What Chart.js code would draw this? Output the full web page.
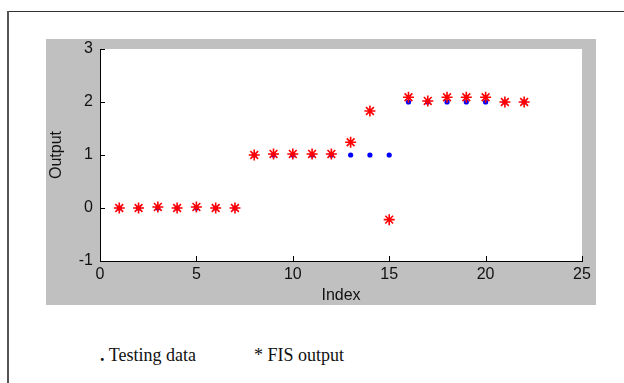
<!DOCTYPE html>
<html>
<head>
<meta charset="utf-8">
<script src="https://cdn.jsdelivr.net/npm/chart.js@4.4.1/dist/chart.umd.min.js"></script>
<style>
  html, body { margin: 0; padding: 0; background: #fff; }
  #page { position: relative; width: 624px; height: 383px; overflow: hidden; }
  #frameTop { position: absolute; left: 7px; top: 11px; width: 617px; height: 1px; background: #333; }
  #frameLeft { position: absolute; left: 7px; top: 11px; width: 2px; height: 372px; background: #555; }
  #panel { position: absolute; left: 46px; top: 39px; width: 550px; height: 266px; background: #c0c0c0; }
  .legend { position: absolute; top: 345px; font-family: "Liberation Serif", "DejaVu Serif", serif; font-size: 18px; color: #111; }
</style>
</head>
<body>
<div id="page">
  <div id="frameTop"></div>
  <div id="frameLeft"></div>
  <div id="panel"><canvas id="chart"></canvas></div>
  <div class="legend" style="left:100px;"><b>.</b> Testing data</div>
  <div class="legend" style="left:254px;">* FIS output</div>
</div>
<script>
const indices = [1, 2, 3, 4, 5, 6, 7, 8, 9, 10, 11, 12, 13, 14, 15, 16, 17, 18, 19, 20, 21, 22]
const testingData = [0, 0, 0, 0, 0, 0, 0, 1, 1, 1, 1, 1, 1, 1, 1, 2, 2, 2, 2, 2, 2, 2]
const fisOutput = [0, 0, 0.02, 0, 0.02, 0, 0, 1, 1.02, 1.02, 1.02, 1.02, 1.24, 1.83, -0.22, 2.09, 2.02, 2.09, 2.09, 2.09, 2.0, 2.0]
const xTicks = [0, 5, 10, 15, 20, 25]
const yTicks = [-1, 0, 1, 2, 3]

const toPoints = (ys) => indices.map((x, i) => ({ x: x, y: ys[i] }))

// white plot box + inward tick marks like matlab
const plotBox = {
  id: "plotBox",
  beforeDraw(chart) {
    const { ctx, chartArea } = chart
    ctx.save()
    ctx.fillStyle = "#ffffff"
    ctx.fillRect(chartArea.left, chartArea.top, chartArea.right - chartArea.left, chartArea.bottom - chartArea.top)
    ctx.restore()
  },
  afterDraw(chart) {
    const { ctx, chartArea, scales } = chart
    ctx.save()
    ctx.strokeStyle = "#000"
    ctx.lineWidth = 1
    ctx.beginPath()
    xTicks.forEach((v) => {
      const px = Math.round(scales.x.getPixelForValue(v)) + 0.5
      ctx.moveTo(px, chartArea.bottom)
      ctx.lineTo(px, chartArea.bottom - 5)
    })
    yTicks.forEach((v) => {
      const py = Math.round(scales.y.getPixelForValue(v)) + 0.5
      ctx.moveTo(chartArea.left, py)
      ctx.lineTo(chartArea.left + 5, py)
    })
    ctx.stroke()
    ctx.restore()
  },
}

const axisFont = { family: "'Liberation Sans', Arial, sans-serif", size: 16 }

new Chart(document.getElementById("chart"), {
  type: "scatter",
  data: {
    datasets: [
      {
        label: "FIS output",
        data: toPoints(fisOutput),
        pointStyle: "star",
        radius: 5.5,
        borderColor: "#ff0000",
        backgroundColor: "#ff0000",
        borderWidth: 1.6,
        order: 0,
      },
      {
        label: "Testing data",
        data: toPoints(testingData),
        pointStyle: "circle",
        radius: 2.6,
        borderColor: "#0000ff",
        backgroundColor: "#0000ff",
        borderWidth: 0,
        order: 1,
      },
    ],
  },
  options: {
    responsive: true,
    maintainAspectRatio: false,
    animation: false,
    events: [],
    layout: { padding: { top: 10, right: 14, left: 0, bottom: 0 } },
    plugins: {
      legend: { display: false },
      tooltip: { enabled: false },
    },
    scales: {
      x: {
        type: "linear",
        min: 0,
        max: 25,
        afterFit(scale) {
          scale.height = 44
          scale.paddingLeft = 0
          scale.paddingRight = 0
        },
        afterBuildTicks(scale) { scale.ticks = xTicks.map((v) => ({ value: v })) },
        grid: { display: false, drawTicks: false },
        border: { display: true, color: "#000", width: 1 },
        ticks: { color: "#111", font: axisFont, padding: 4, maxRotation: 0 },
        title: { display: true, text: "Index", color: "#111", font: axisFont, padding: { top: 0, bottom: 0 } },
      },
      y: {
        type: "linear",
        min: -1,
        max: 3,
        afterFit(scale) {
          scale.width = 54
          scale.paddingTop = 0
          scale.paddingBottom = 0
        },
        afterBuildTicks(scale) { scale.ticks = yTicks.map((v) => ({ value: v })) },
        grid: { display: false, drawTicks: false },
        border: { display: true, color: "#000", width: 1 },
        ticks: { color: "#111", font: axisFont, padding: 7 },
        title: { display: true, text: "Output", color: "#111", font: axisFont, padding: { top: 1, bottom: 0 } },
      },
    },
  },
  plugins: [plotBox],
})
</script>
</body>
</html>
